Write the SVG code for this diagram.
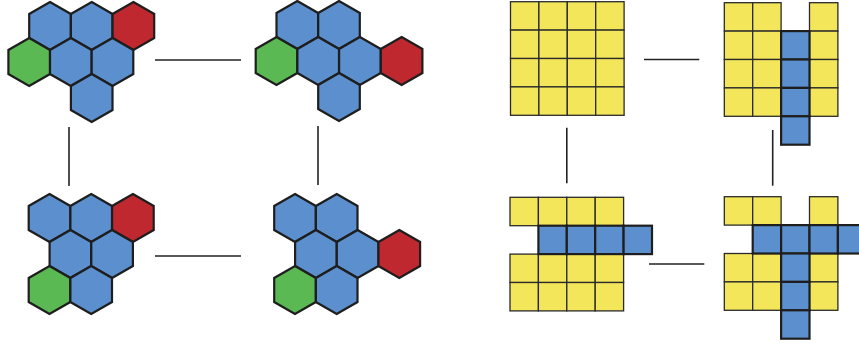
<svg xmlns="http://www.w3.org/2000/svg" xmlns:xlink="http://www.w3.org/1999/xlink" width="859" height="348" viewBox="0 0 859 348">
<style>
.b{fill:#5b8fcd}.r{fill:#c0282f}.g{fill:#5bb953}
.hx{stroke:#1e1e1e;stroke-width:2.2;stroke-linejoin:miter}
.y{fill:#f3e65b;stroke:#2a2a2a;stroke-width:1.3}
.q{fill:#5b8fcd;stroke:#1e1e1e;stroke-width:2.2}
.c{stroke:#222;stroke-width:1.6;fill:none}
</style>
<defs>
<polygon id="h" class="hx" points="0,-24 20.8,-12 20.8,12 0,24 -20.8,12 -20.8,-12"/>
<rect id="s" width="28.4" height="28.4"/>
</defs>
<rect width="859" height="348" fill="#fff"/>
<g id="hex1">
<use href="#h" x="50" y="26" class="b"/><use href="#h" x="91.7" y="26" class="b"/><use href="#h" x="133.4" y="26" class="r"/>
<use href="#h" x="29.2" y="62" class="g"/><use href="#h" x="70.8" y="62" class="b"/><use href="#h" x="112.5" y="62" class="b"/>
<use href="#h" x="91.7" y="98" class="b"/>
</g>
<g id="hex2">
<use href="#h" x="297.3" y="25" class="b"/><use href="#h" x="339" y="25" class="b"/>
<use href="#h" x="276.5" y="61" class="g"/><use href="#h" x="318.2" y="61" class="b"/><use href="#h" x="359.9" y="61" class="b"/><use href="#h" x="401.6" y="61" class="r"/>
<use href="#h" x="339" y="97" class="b"/>
</g>
<g id="hex3">
<use href="#h" x="49.5" y="218" class="b"/><use href="#h" x="91.2" y="218" class="b"/><use href="#h" x="132.9" y="218" class="r"/>
<use href="#h" x="70.4" y="254" class="b"/><use href="#h" x="112.1" y="254" class="b"/>
<use href="#h" x="49.5" y="290" class="g"/><use href="#h" x="91.2" y="290" class="b"/>
</g>
<g id="hex4">
<use href="#h" x="295" y="218" class="b"/><use href="#h" x="336.7" y="218" class="b"/>
<use href="#h" x="315.9" y="254" class="b"/><use href="#h" x="357.6" y="254" class="b"/><use href="#h" x="399.3" y="254" class="r"/>
<use href="#h" x="295" y="290" class="g"/><use href="#h" x="336.7" y="290" class="b"/>
</g>
<g id="grid1" transform="translate(510.5,1.7)">
<use href="#s" x="0" y="0" class="y"/><use href="#s" x="28.4" y="0" class="y"/><use href="#s" x="56.8" y="0" class="y"/><use href="#s" x="85.2" y="0" class="y"/>
<use href="#s" x="0" y="28.4" class="y"/><use href="#s" x="28.4" y="28.4" class="y"/><use href="#s" x="56.8" y="28.4" class="y"/><use href="#s" x="85.2" y="28.4" class="y"/>
<use href="#s" x="0" y="56.8" class="y"/><use href="#s" x="28.4" y="56.8" class="y"/><use href="#s" x="56.8" y="56.8" class="y"/><use href="#s" x="85.2" y="56.8" class="y"/>
<use href="#s" x="0" y="85.2" class="y"/><use href="#s" x="28.4" y="85.2" class="y"/><use href="#s" x="56.8" y="85.2" class="y"/><use href="#s" x="85.2" y="85.2" class="y"/>
</g>
<g id="grid2" transform="translate(724.3,2.7)">
<use href="#s" x="0" y="0" class="y"/><use href="#s" x="28.4" y="0" class="y"/><use href="#s" x="85.2" y="0" class="y"/>
<use href="#s" x="0" y="28.4" class="y"/><use href="#s" x="28.4" y="28.4" class="y"/><use href="#s" x="85.2" y="28.4" class="y"/>
<use href="#s" x="0" y="56.8" class="y"/><use href="#s" x="28.4" y="56.8" class="y"/><use href="#s" x="85.2" y="56.8" class="y"/>
<use href="#s" x="0" y="85.2" class="y"/><use href="#s" x="28.4" y="85.2" class="y"/><use href="#s" x="85.2" y="85.2" class="y"/>
<use href="#s" x="56.8" y="28.4" class="q"/><use href="#s" x="56.8" y="56.8" class="q"/><use href="#s" x="56.8" y="85.2" class="q"/><use href="#s" x="56.8" y="113.6" class="q"/>
</g>
<g id="grid3" transform="translate(510,197.3)">
<use href="#s" x="0" y="0" class="y"/><use href="#s" x="28.4" y="0" class="y"/><use href="#s" x="56.8" y="0" class="y"/><use href="#s" x="85.2" y="0" class="y"/>
<use href="#s" x="0" y="56.8" class="y"/><use href="#s" x="28.4" y="56.8" class="y"/><use href="#s" x="56.8" y="56.8" class="y"/><use href="#s" x="85.2" y="56.8" class="y"/>
<use href="#s" x="0" y="85.2" class="y"/><use href="#s" x="28.4" y="85.2" class="y"/><use href="#s" x="56.8" y="85.2" class="y"/><use href="#s" x="85.2" y="85.2" class="y"/>
<use href="#s" x="28.4" y="28.4" class="q"/><use href="#s" x="56.8" y="28.4" class="q"/><use href="#s" x="85.2" y="28.4" class="q"/><use href="#s" x="113.6" y="28.4" class="q"/>
</g>
<g id="grid4" transform="translate(724.3,196.7)">
<use href="#s" x="0" y="0" class="y"/><use href="#s" x="28.4" y="0" class="y"/><use href="#s" x="85.2" y="0" class="y"/>
<use href="#s" x="0" y="56.8" class="y"/><use href="#s" x="28.4" y="56.8" class="y"/><use href="#s" x="85.2" y="56.8" class="y"/>
<use href="#s" x="0" y="85.2" class="y"/><use href="#s" x="28.4" y="85.2" class="y"/><use href="#s" x="85.2" y="85.2" class="y"/>
<use href="#s" x="28.4" y="28.4" class="q"/><use href="#s" x="56.8" y="28.4" class="q"/><use href="#s" x="85.2" y="28.4" class="q"/><use href="#s" x="113.6" y="28.4" class="q"/>
<use href="#s" x="56.8" y="56.8" class="q"/><use href="#s" x="56.8" y="85.2" class="q"/><use href="#s" x="56.8" y="113.6" class="q"/>
</g>
<g id="connectors" class="c">
<line x1="155" y1="60" x2="241" y2="60"/>
<line x1="69" y1="127" x2="69" y2="186"/>
<line x1="318" y1="126" x2="318" y2="185"/>
<line x1="155" y1="256" x2="241" y2="256"/>
<line x1="644" y1="59.5" x2="699.3" y2="59.5"/>
<line x1="566.8" y1="127.7" x2="566.8" y2="183.3"/>
<line x1="772.7" y1="130" x2="772.7" y2="185.7"/>
<line x1="649" y1="264" x2="704.3" y2="264"/>
</g>
</svg>
